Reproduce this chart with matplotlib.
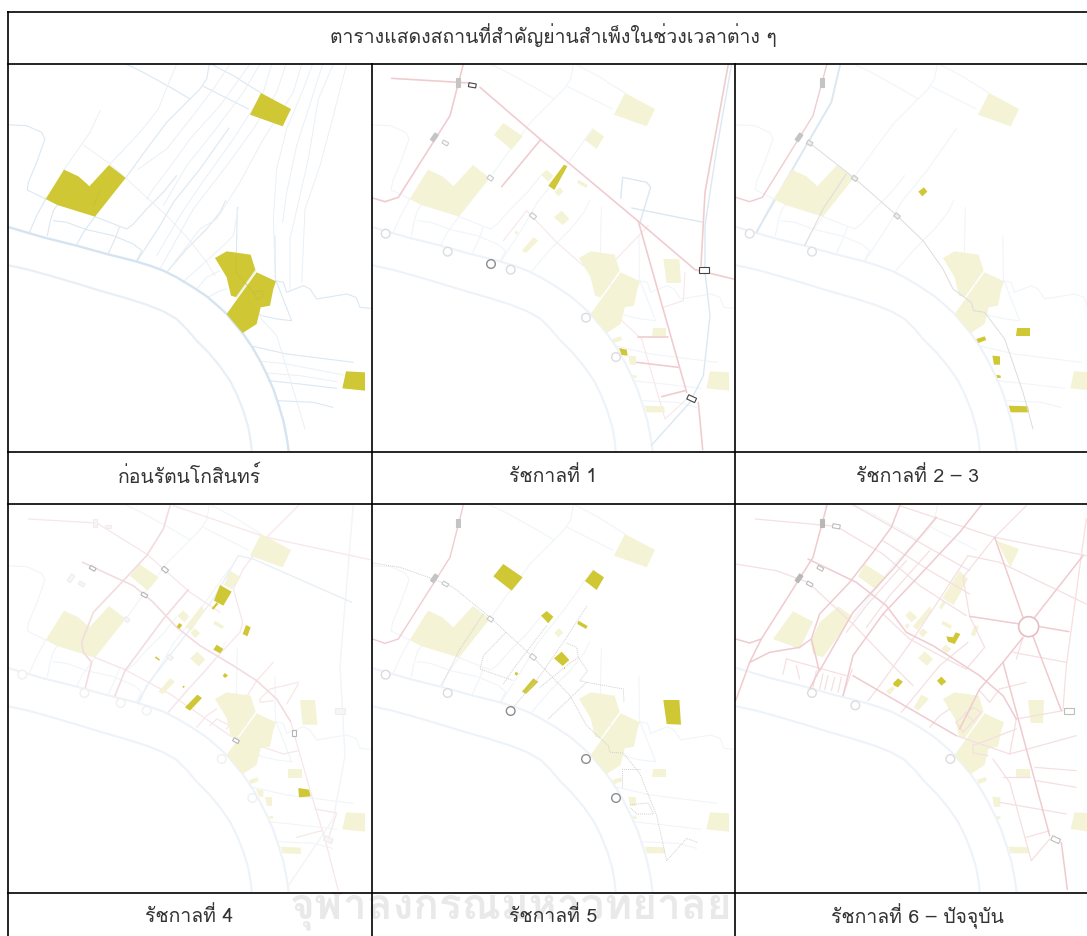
import matplotlib
matplotlib.use('Agg')
import matplotlib.pyplot as plt
from matplotlib.patches import Polygon, Circle
import numpy as np

plt.rcParams['font.family'] = ['Loma', 'Noto Sans Thai', 'DejaVu Sans']

TITLE = 'ตารางแสดงสถานที่สำคัญย่านสำเพ็งในช่วงเวลาต่าง ๆ'
CAPTIONS = ['ก่อนรัตนโกสินทร์', 'รัชกาลที่ 1', 'รัชกาลที่ 2 – 3', 'รัชกาลที่ 4', 'รัชกาลที่ 5', 'รัชกาลที่ 6 – ปัจจุบัน']
WATERMARK = 'จุฬาลงกรณ์มหาวิทยาลัย'

YELLOW = '#cfc733'
PALE = '#f4f3d6'
BLUE = '#dbe8f2'
PALE_BLUE = '#f0f5f9'
RED = '#f0ccd0'
PINK = '#f8e7e9'
GREY = '#dcdcdc'

# map units are 1/3 px of the first panel
NORTH = [(783, 102), (873, 150), (848, 202), (750, 167)]
PALACE = [(137, 420), (192, 332), (235, 352), (258, 372), (268, 382), (327, 318), (377, 357), (285, 473), (172, 438)]
CENTER_UP = [(645, 597), (680, 577), (752, 587), (767, 635), (710, 715), (693, 710), (680, 655)]
CENTER_LOW = [(770, 640), (828, 667), (820, 690), (810, 740), (782, 745), (770, 795), (728, 822), (680, 765), (712, 720)]
SOUTHEAST = [(1038, 937), (1095, 940), (1095, 995), (1027, 988)]
WAT1 = [(418, 192), (476, 232), (443, 272), (390, 228)]
WAT2 = [(688, 210), (720, 232), (698, 270), (663, 243)]
WAT3 = [(548, 333), (568, 350), (553, 368), (531, 347)]
WAT4 = [(588, 385), (598, 398), (583, 412), (571, 398)]
WAT5 = [(593, 455), (616, 480), (596, 498), (570, 475)]
WAT6 = [(643, 362), (671, 378), (666, 387), (640, 372)]
WAT7 = [(508, 535), (523, 545), (486, 582), (474, 575)]
WAT8 = [(455, 515), (463, 520), (458, 527), (452, 523)]
WAT9 = [(898, 600), (946, 600), (951, 672), (908, 672)]
S1 = [(866, 806), (906, 806), (906, 832), (863, 832)]
S2 = [(745, 840), (770, 832), (775, 843), (751, 852)]
S3 = [(793, 890), (816, 892), (816, 917), (798, 917)]
S4 = [(805, 947), (818, 950), (818, 957), (808, 957)]
S5 = [(842, 1040), (900, 1042), (903, 1060), (848, 1060)]
NARROW = [(600, 317), (610, 322), (571, 393), (553, 380)]
DOCK = [(765, 867), (788, 872), (791, 890), (773, 888)]
BIG_BLOCKS = [NORTH, PALACE, CENTER_UP, CENTER_LOW, SOUTHEAST]

RIVER_EAST = [(21, 503), (130, 535), (230, 560), (320, 585), (400, 605), (450, 620), (490, 635), (530, 655), (575, 682), (620, 712), (655, 742), (680, 765), (705, 795), (730, 825), (757, 865), (780, 905), (800, 945), (820, 990), (835, 1035), (850, 1085), (860, 1135), (866, 1176)]
RIVER_WEST = [(21, 618), (85, 632), (150, 650), (225, 672), (300, 695), (370, 715), (440, 737), (490, 757), (530, 780), (560, 810), (590, 845), (625, 880), (660, 922), (690, 965), (710, 1005), (730, 1055), (745, 1105), (752, 1145), (755, 1176)]

BASE_LINES = [
    [(378, 15), (430, 40), (520, 90), (570, 120)],
    [(628, 15), (620, 60), (600, 90), (570, 120), (500, 190), (440, 270), (377, 357)],
    [(610, 82), (745, 150)],
    [(633, 15), (700, 50), (783, 102)],
    [(21, 197), (80, 200), (125, 220), (135, 240), (110, 310), (85, 370), (82, 393), (137, 420)],
    [(137, 420), (110, 470), (88, 520)],
    [(172, 438), (160, 455), (150, 490), (142, 530)],
    [(160, 485), (200, 490), (260, 512), (340, 530), (400, 555), (425, 575), (410, 605)],
    [(285, 473), (250, 520), (230, 558)],
    [(285, 473), (380, 510), (400, 495), (440, 450), (490, 400), (530, 350)],
    [(358, 505), (345, 540), (325, 583)],
    [(687, 207), (600, 330), (520, 430), (480, 500), (410, 608)],
    [(500, 640), (560, 570), (620, 510), (660, 460), (677, 425)],
    [(712, 445), (708, 640), (760, 700)],
    [(825, 530), (826, 660), (875, 785), (830, 780), (785, 770), (760, 755)],
    [(825, 665), (850, 670), (860, 700), (910, 680), (930, 690), (950, 720), (1040, 705), (1068, 715), (1080, 745), (1113, 748)],
    [(760, 862), (860, 885), (1060, 910)],
    [(805, 965), (900, 975), (1010, 988)],
    [(835, 1025), (940, 1030), (998, 1045)],
]
FAN_LINES = [
    [(300, 155), (270, 220), (190, 335)],
    [(530, 15), (505, 75), (475, 150), (420, 220), (330, 315)],
    [(690, 15), (640, 90), (575, 175), (500, 270), (415, 330)],
    [(750, 15), (660, 140), (570, 240), (520, 310), (460, 390), (440, 420)],
    [(780, 15), (730, 100), (640, 220), (560, 320), (490, 440)],
    [(815, 15), (790, 100), (700, 240), (600, 380), (540, 470), (470, 590)],
    [(858, 15), (830, 100), (760, 210), (680, 320), (580, 450), (480, 630)],
    [(905, 15), (880, 100), (790, 240), (720, 370), (650, 480), (600, 510), (500, 640)],
    [(938, 15), (910, 90), (860, 210), (830, 330), (820, 480), (825, 640)],
    [(968, 15), (935, 120), (890, 260), (860, 400), (848, 490)],
    [(1000, 15), (955, 120), (925, 300), (870, 540), (870, 690)],
    [(1040, 15), (1000, 170), (960, 320), (915, 450), (905, 670)],
    [(548, 670), (620, 605), (670, 560), (700, 530), (715, 445)],
    [(780, 775), (830, 830), (870, 960), (915, 1110)],
    [(785, 907), (860, 915), (1030, 948)],
    [(800, 942), (900, 950), (1010, 968)],
    [(625, 715), (660, 695), (680, 690)],
    [(590, 690), (620, 655), (660, 635)],
]
P1_GREY_LINES = [[(250, 258), (330, 315), (377, 357), (440, 415), (500, 470), (570, 545), (620, 610), (645, 650)]]
P1_INNER = [[(708, 590), (708, 640), (760, 700)], [(760, 700), (785, 695), (790, 712), (772, 722), (760, 700)], [(300, 395), (280, 440)]]

# panel 2, in its own crop coordinates
P2_RED = [
    [(65, 58), (300, 72)],
    [(330, 85), (510, 240), (805, 487), (975, 632), (1090, 660)],
    [(805, 487), (950, 1000)],
    [(985, 1030), (998, 1172)],
    [(280, 15), (240, 170), (85, 415), (45, 428), (8, 417)],
    [(512, 242), (395, 383)],
    [(1075, 15), (1005, 400), (993, 620)],
    [(805, 833), (895, 833)],
    [(800, 910), (925, 925)],
    [(875, 1013), (945, 995)],
]
P2_PINK = [
    [(815, 840), (885, 1080), (950, 1020)],
    [(750, 780), (815, 840)],
    [(835, 500), (700, 640)],
    [(400, 545), (470, 455), (560, 550), (640, 620)],
    [(880, 745), (940, 725), (945, 640)],
]
P2_BLUE = [
    [(1085, 15), (1040, 270), (1005, 500), (1005, 640), (1020, 770), (1000, 950), (960, 1030), (845, 1158)],
    [(752, 418), (758, 355), (830, 370), (842, 385), (810, 490)],
    [(785, 447), (1000, 490)],
]
P2_CIRCLES = [(47, 524), (233, 578), (422, 632), (648, 776), (738, 894)]
P2_CIRCLES_DARK = [(363, 615)]
P2_GATES_DARK = [(307, 79, 22, 12, 10), (1003, 632, 30, 18, 0), (965, 1019, 26, 14, 25)]
P2_GATES_LIGHT = [(226, 252, 18, 10, 30), (361, 357, 16, 12, 35), (489, 471, 18, 12, 40)]
P2_BARS = [(264, 70, 14, 26, 0), (193, 235, 12, 24, 35)]

# panel 3
P3_RED = [[(282, 15), (240, 170), (88, 415), (50, 428), (8, 415)]]
P3_BLUE = [[(322, 15), (295, 130), (225, 250), (70, 520)]]
P3_GREY = [
    [(230, 252), (365, 358), (492, 470), (570, 545), (630, 630), (660, 690), (715, 730), (722, 755), (755, 760), (815, 840), (870, 1000), (900, 1110)],
    [(340, 345), (270, 450), (215, 560)],
]
P3_CIRCLES = [(50, 524), (237, 578)]
P3_GATES_LIGHT = [(230, 252, 16, 12, 30), (365, 358, 16, 12, 35), (492, 471, 16, 12, 40)]
P3_BARS = [(267, 70, 14, 26, 0), (198, 235, 12, 24, 35)]

# panel 4
P4_YELLOW = [
    [(660, 258), (695, 278), (670, 320), (642, 305)],
    [(650, 310), (655, 315), (640, 332), (635, 328)],
    [(738, 378), (752, 385), (742, 412), (728, 405)],
    [(650, 437), (670, 450), (660, 463), (640, 452)],
    [(538, 372), (547, 378), (538, 390), (530, 383)],
    [(468, 472), (480, 482), (477, 485), (465, 476)],
    [(675, 522), (684, 530), (675, 537), (668, 530)],
    [(550, 560), (555, 563), (550, 567), (547, 563)],
    [(592, 587), (606, 597), (570, 635), (555, 625)],
    [(895, 867), (927, 872), (932, 892), (897, 895)],
]
P4_PALE = [
    [(690, 215), (722, 235), (695, 270), (672, 258)],
    [(532, 350), (550, 335), (568, 352), (553, 370)],
    [(555, 385), (605, 320), (612, 335), (575, 395)],
    [(585, 388), (600, 403), (585, 417), (572, 402)],
    [(592, 458), (616, 482), (596, 502), (570, 478)],
    [(645, 365), (672, 382), (667, 390), (640, 375)],
    [(510, 538), (525, 548), (488, 586), (476, 578)],
    [(900, 603), (945, 603), (952, 677), (908, 677)],
    [(865, 809), (907, 809), (907, 836), (863, 836)],
    [(747, 843), (772, 835), (776, 846), (752, 855)],
    [(768, 870), (790, 875), (790, 893), (778, 893)],
    [(795, 895), (816, 895), (816, 921), (800, 921)],
    [(806, 950), (819, 950), (819, 960), (810, 960)],
    [(842, 1043), (902, 1046), (903, 1065), (848, 1063)],
]
P4_RED = [
    [(248, 190), (330, 228), (400, 260), (460, 310), (530, 385), (600, 440), (700, 500), (770, 545), (830, 600), (872, 668)],
    [(510, 20), (490, 90), (440, 170), (370, 245), (280, 340), (245, 430), (250, 460), (275, 490), (255, 570)],
    [(565, 272), (490, 360), (375, 515), (345, 590)],
]
P4_PINK = [
    [(520, 20), (800, 115), (1110, 182)],
    [(895, 20), (800, 115), (730, 210), (700, 270), (728, 370), (720, 400), (650, 475), (505, 640)],
    [(285, 475), (375, 512), (510, 585), (690, 710), (850, 765), (895, 755)],
    [(820, 490), (770, 545), (680, 690)],
    [(895, 550), (810, 570), (780, 600), (780, 610), (820, 605)],
    [(895, 555), (860, 615)],
    [(872, 668), (935, 890), (975, 1020), (1015, 1175)],
    [(590, 685), (620, 650), (650, 630)],
    [(630, 680), (650, 660), (690, 680)],
    [(85, 60), (290, 72), (440, 165), (570, 280), (660, 340)],
    [(945, 930), (1010, 942), (985, 1020)],
    [(890, 1015), (965, 995)],
]
P4_BLUE = [
    [(715, 170), (640, 300), (540, 430), (440, 560), (415, 615)],
    [(715, 170), (760, 180), (1055, 310)],
]
P4_PALE_BLUE = [[(1060, 15), (1020, 500), (1035, 770), (1000, 960), (865, 1160)]]
P4_CIRCLES = [(67, 527), (253, 582), (362, 612), (440, 635), (665, 780), (757, 897)]
P4_GATES_DARK = [(278, 208, 18, 10, 30), (433, 288, 18, 10, 30), (495, 212, 18, 12, 40), (882, 702, 10, 16, 0), (708, 725, 18, 10, 30)]
P4_GATES_LIGHT = [(325, 82, 18, 10, 0), (245, 255, 18, 10, 30), (380, 362, 16, 12, 35), (510, 475, 16, 12, 40), (1020, 635, 30, 18, 0), (985, 1022, 26, 14, 25), (285, 72, 14, 26, 0), (213, 238, 12, 24, 35)]

# panel 5
P5_YELLOW = [
    [(400, 195), (458, 235), (425, 275), (370, 232)],
    [(670, 213), (702, 235), (680, 273), (645, 246)],
    [(530, 336), (550, 353), (535, 373), (513, 350)],
    [(575, 458), (598, 483), (578, 501), (552, 478)],
    [(625, 365), (653, 381), (648, 390), (622, 375)],
    [(490, 538), (505, 548), (468, 585), (456, 578)],
    [(437, 518), (445, 523), (440, 530), (434, 526)],
    [(880, 603), (928, 603), (933, 677), (890, 675)],
    [(581, 505), (586, 505), (586, 510), (581, 510)],
]
P5_PALE = [
    [(568, 388), (580, 401), (565, 415), (553, 401)],
    [(848, 809), (888, 809), (888, 835), (845, 835)],
    [(727, 843), (752, 835), (757, 846), (733, 855)],
    [(775, 893), (798, 895), (798, 921), (780, 921)],
    [(787, 950), (800, 953), (800, 960), (790, 960)],
    [(824, 1043), (882, 1045), (885, 1063), (830, 1063)],
]
P5_RED = [[(280, 18), (240, 175), (85, 420), (45, 433), (8, 420)]]
P5_GREY = [
    [(8, 192), (90, 205), (190, 240), (250, 265), (360, 355), (490, 475), (600, 590), (650, 680), (715, 740), (720, 760), (760, 762), (810, 825), (860, 950), (890, 1085), (950, 1018), (982, 1030)],
    [(340, 345), (270, 450), (215, 560)],
    [(408, 400), (340, 470), (330, 510), (430, 545)],
    [(530, 380), (430, 510), (400, 555)],
    [(650, 322), (580, 430), (510, 530), (430, 625)],
    [(510, 565), (590, 500), (625, 475), (652, 515), (630, 545), (650, 550), (535, 660)],
    [(650, 550), (760, 570), (762, 610)],
    [(590, 432), (620, 445), (625, 475)],
    [(810, 810), (755, 810), (755, 865)],
    [(780, 917), (835, 912), (850, 945), (800, 945), (780, 925)],
]
P5_CIRCLES = [(47, 527), (233, 582)]
P5_CIRCLES_DARK = [(422, 636), (648, 780), (738, 897)]
P5_GATES_LIGHT = [(226, 255, 18, 10, 30), (361, 360, 16, 12, 35), (489, 474, 18, 12, 40)]
P5_BARS = [(264, 72, 14, 26, 0), (193, 238, 12, 24, 35)]

# panel 6
P6_PALACE = [
    [(120, 420), (180, 337), (240, 368), (200, 450)],
    [(232, 430), (260, 370), (315, 322), (358, 352), (270, 475), (240, 465)],
]
P6_PALE = [
    [(790, 125), (858, 150), (832, 205)],
    [(395, 195), (458, 235), (430, 272), (375, 232)],
    [(680, 215), (705, 240), (662, 318), (628, 298)],
    [(630, 305), (638, 312), (625, 332), (618, 325)],
    [(530, 335), (553, 355), (535, 370), (517, 350)],
    [(590, 322), (597, 335), (553, 393), (540, 382)],
    [(522, 373), (530, 378), (522, 390), (515, 383)],
    [(570, 388), (584, 400), (568, 415), (557, 400)],
    [(630, 365), (657, 380), (652, 390), (625, 375)],
    [(725, 378), (738, 383), (725, 413), (713, 407)],
    [(638, 437), (655, 450), (640, 463), (625, 450)],
    [(575, 457), (600, 480), (582, 500), (555, 478)],
    [(478, 562), (485, 570), (470, 587), (458, 578)],
    [(565, 587), (588, 600), (555, 635), (542, 625)],
    [(885, 603), (933, 603), (930, 672), (893, 672)],
    [(850, 809), (892, 809), (892, 835), (848, 835)],
    [(732, 842), (757, 834), (762, 845), (738, 855)],
    [(778, 893), (802, 895), (802, 923), (783, 923)],
    [(790, 950), (803, 953), (803, 960), (793, 960)],
    [(827, 1043), (885, 1045), (888, 1063), (833, 1063)],
    [(1025, 940), (1062, 942), (1062, 997), (1013, 990)],
]
P6_YELLOW = [
    [(640, 412), (660, 415), (668, 400), (682, 405), (665, 435), (645, 428)],
    [(612, 545), (625, 533), (640, 548), (625, 560)],
    [(480, 553), (495, 538), (510, 548), (495, 565), (483, 560)],
]
P6_RED = [
    [(282, 18), (240, 175), (85, 420), (50, 432), (8, 420)],
    [(85, 420), (50, 490), (8, 605)],
    [(50, 490), (110, 460), (200, 445), (235, 420), (260, 345), (350, 250), (420, 160), (475, 85), (500, 20)],
    [(235, 420), (250, 480), (258, 515), (230, 570)],
    [(610, 55), (480, 210), (360, 340), (260, 515)],
    [(745, 18), (680, 100), (540, 250), (450, 345), (360, 470), (330, 590)],
    [(360, 530), (420, 565), (670, 710)],
    [(785, 115), (870, 355)],
    [(900, 412), (985, 635)],
    [(1050, 170), (905, 355)],
    [(870, 415), (810, 490), (740, 570), (680, 690)],
    [(710, 352), (860, 375)],
    [(915, 382), (1008, 398)],
    [(810, 490), (950, 1010)],
    [(985, 1030), (1003, 1172)],
    [(225, 180), (370, 250), (460, 320), (520, 400), (600, 440), (740, 530), (810, 590), (850, 660)],
]
P6_PINK = [
    [(67, 60), (310, 82), (450, 165), (560, 260), (700, 350)],
    [(360, 18), (710, 215)],
    [(500, 20), (785, 115), (1060, 170)],
    [(880, 20), (785, 115), (690, 235), (710, 352), (755, 445), (700, 510)],
    [(705, 170), (800, 190), (1060, 315)],
    [(705, 170), (620, 300), (540, 420), (440, 560), (405, 605)],
    [(1060, 60), (1000, 500), (990, 630)],
    [(160, 480), (150, 525)],
    [(160, 480), (340, 530)],
    [(190, 500), (200, 540)],
    [(250, 515), (240, 565)],
    [(270, 525), (260, 570)],
    [(285, 530), (275, 572)],
    [(305, 535), (295, 575)],
    [(325, 535), (315, 580)],
    [(358, 510), (330, 590)],
    [(670, 670), (720, 625), (745, 640), (690, 700), (670, 670)],
    [(695, 640), (725, 670)],
    [(850, 660), (990, 635)],
    [(850, 660), (830, 765), (670, 710)],
    [(830, 765), (1030, 710)],
    [(725, 738), (850, 690)],
    [(905, 805), (1030, 815)],
    [(910, 845), (1030, 865)],
    [(800, 910), (1000, 945)],
    [(880, 1015), (950, 995)],
    [(810, 835), (890, 835)],
    [(780, 780), (830, 850), (895, 1085), (950, 1020)],
    [(800, 570), (880, 550)],
    [(740, 575), (770, 610), (800, 570)],
    [(505, 640), (620, 500), (705, 430)],
    [(590, 685), (620, 650), (650, 630)],
    [(8, 195), (130, 215), (225, 250), (360, 375), (460, 480), (540, 560)],
    [(720, 735), (720, 762), (765, 770)],
    [(450, 125), (590, 215), (710, 285)],
    [(590, 155), (470, 290), (400, 385)],
    [(520, 185), (400, 320), (340, 400)],
    [(840, 460), (1000, 490)],
    [(870, 415), (850, 480)],
    [(450, 345), (530, 420), (640, 480), (700, 510)],
]
P6_CIRCLE = (887, 383)
P6_CIRCLES = [(237, 582), (367, 619), (652, 780)]
P6_GATES_LIGHT = [(310, 82, 22, 12, 10), (262, 208, 18, 10, 30), (230, 255, 18, 10, 30), (1008, 636, 30, 18, 0), (968, 1022, 26, 14, 25)]
P6_BARS = [(267, 72, 14, 26, 0), (198, 238, 12, 24, 35)]

# table geometry in image px
COLS = [(7, 371), (372, 734), (735, 1087)]
ROWS = [(64, 452), (505, 893)]
SHIFTS = [(0, 0), (18, 0), (15, 0), (0, -3), (18, -3), (15, -3)]
W, H = 1087, 937

fig = plt.figure(figsize=(W / 100, H / 100), dpi=100)

bg = fig.add_axes([0, 0, 1, 1], zorder=0)
bg.set_xlim(0, W)
bg.set_ylim(H, 0)
bg.axis('off')
bg.text(511, 903, WATERMARK, fontsize=30.5, fontweight='bold', color='#e9e9e9', ha='center', va='center')


def lines(ax, items, color, lw, shift=(0, 0), z=2, **kw):
    for item in items:
        pts = np.array(item, dtype=float) + shift
        ax.plot(pts[:, 0], pts[:, 1], color=color, lw=lw, zorder=z, solid_capstyle='round', **kw)


def blocks(ax, items, color, shift=(0, 0), z=3):
    for item in items:
        pts = np.array(item, dtype=float) + shift
        ax.add_patch(Polygon(pts, closed=True, fc=color, ec='none', zorder=z))


def gates(ax, items, ec, fc='white', shift=(0, 0), lw=0.8):
    for cx, cy, w, h, ang in items:
        a = np.deg2rad(ang)
        rot = np.array([[np.cos(a), -np.sin(a)], [np.sin(a), np.cos(a)]])
        box = np.array([(-w, -h), (w, -h), (w, h), (-w, h)]) / 2
        pts = box @ rot.T + np.array([cx, cy]) + shift
        ax.add_patch(Polygon(pts, closed=True, fc=fc, ec=ec, lw=lw, zorder=6))


def rings(ax, items, color, shift=(0, 0), lw=1.0, r=13):
    for cx, cy in items:
        ax.add_patch(Circle((cx + shift[0], cy + shift[1]), r, fc='white', ec=color, lw=lw, zorder=6))


def base(ax, line_color=PALE_BLUE, block_color=PALE):
    lines(ax, BASE_LINES, line_color, 0.8)
    lines(ax, [RIVER_EAST, RIVER_WEST], '#edf3f8', 1.5)
    blocks(ax, BIG_BLOCKS, block_color)


axes = []
for r, (top, bottom) in enumerate(ROWS):
    for c, (left, right) in enumerate(COLS):
        ax = fig.add_axes([left / W, 1 - bottom / H, (right - left) / W, (bottom - top) / H], zorder=1)
        offset = [0, 364, 728][c]
        ax.set_xlim(3 * (left - offset), 3 * (right - offset))
        ax.set_ylim(3 * (bottom - [0, 441][r] - 60), 3 * (top - [0, 441][r] - 60))
        ax.set_xticks([])
        ax.set_yticks([])
        for s in ax.spines.values():
            s.set_visible(False)
        axes.append(ax)

# before Rattanakosin
ax = axes[0]
lines(ax, BASE_LINES, BLUE, 0.8)
lines(ax, FAN_LINES, '#e9f0f6', 0.7)
lines(ax, P1_GREY_LINES, '#e9eef1', 0.6)
lines(ax, [RIVER_EAST], '#d5e4f0', 1.7)
lines(ax, [RIVER_WEST], '#e8f0f6', 1.6)
blocks(ax, BIG_BLOCKS, YELLOW)
lines(ax, [[(710, 715), (767, 635)]], '#eef3dc', 1.2, z=4)
lines(ax, P1_INNER, '#c4bf3a', 0.5, z=4)

# Rama 1
ax = axes[1]
s = SHIFTS[1]
base(ax)
blocks(ax, [WAT1, WAT2, WAT3, WAT4, WAT5, WAT6, WAT7, WAT8, WAT9, S1, S2, S3, S4, S5], PALE)
blocks(ax, [NARROW, DOCK], YELLOW)
lines(ax, P2_PINK, PINK, 0.8, s)
lines(ax, P2_BLUE, BLUE, 1.0, s)
lines(ax, P2_RED, RED, 1.2, s, z=4)
rings(ax, P2_CIRCLES, '#dcdcdc', s)
rings(ax, P2_CIRCLES_DARK, '#8c8c8c', s)
gates(ax, P2_GATES_DARK, '#444444', shift=s)
gates(ax, P2_GATES_LIGHT, '#c8c8c8', shift=s)
gates(ax, P2_BARS, '#c4c4c4', fc='#c4c4c4', shift=s)

# Rama 2-3
ax = axes[2]
s = SHIFTS[2]
base(ax)
blocks(ax, [WAT4, S1, S2, S3, S4, S5], YELLOW)
lines(ax, P3_BLUE, BLUE, 1.4, s)
lines(ax, P3_RED, RED, 1.0, s, z=4)
lines(ax, P3_GREY, GREY, 0.7, s, z=4)
rings(ax, P3_CIRCLES, '#e0e0e4', s)
gates(ax, P3_GATES_LIGHT, '#c8c8c8', fc='#eeeeee', shift=s)
gates(ax, P3_BARS, '#c4c4c4', fc='#c4c4c4', shift=s)

# Rama 4
ax = axes[3]
s = SHIFTS[3]
base(ax)
lines(ax, P4_PALE_BLUE, PALE_BLUE, 1.0, s)
lines(ax, P4_BLUE, '#e8f0f6', 1.0, s)
lines(ax, P4_PINK, '#f8e6e8', 0.9, s, z=2)
blocks(ax, [WAT1], PALE)
blocks(ax, P4_PALE, PALE, s)
lines(ax, P4_RED, '#f3dcdf', 1.2, s, z=4)
blocks(ax, P4_YELLOW, YELLOW, s, z=5)
rings(ax, P4_CIRCLES, '#f0f0f0', s)
gates(ax, P4_GATES_DARK, '#b4b4b4', shift=s)
gates(ax, P4_GATES_LIGHT, '#eeeeee', fc='#f6f6f6', shift=s)

# Rama 5
ax = axes[4]
s = SHIFTS[4]
base(ax)
blocks(ax, P5_PALE, PALE, s)
blocks(ax, P5_YELLOW, YELLOW, s)
lines(ax, P5_RED, RED, 1.0, s, z=4)
lines(ax, P5_GREY, '#cfcfcf', 0.7, s, z=4, linestyle=(0, (1, 1)))
rings(ax, P5_CIRCLES, '#dcdcdc', s)
rings(ax, P5_CIRCLES_DARK, '#8c8c8c', s)
gates(ax, P5_GATES_LIGHT, '#c8c8c8', shift=s)
gates(ax, P5_BARS, '#c4c4c4', fc='#c4c4c4', shift=s)

# Rama 6 - present
ax = axes[5]
s = SHIFTS[5]
lines(ax, BASE_LINES[:3], PALE_BLUE, 0.8)
lines(ax, [RIVER_EAST, RIVER_WEST], '#edf3f8', 1.5)
blocks(ax, [CENTER_UP, CENTER_LOW], PALE)
blocks(ax, P6_PALACE, PALE, s)
blocks(ax, P6_PALE, PALE, s)
blocks(ax, P6_YELLOW, YELLOW, s, z=5)
lines(ax, P6_PINK, '#f6dfe1', 0.9, s, z=4)
lines(ax, P6_RED, '#efcbcf', 1.1, s, z=4)
rings(ax, [P6_CIRCLE], '#e8bcc2', s, lw=1.2, r=30)
rings(ax, P6_CIRCLES, '#dcdcdc', s)
gates(ax, P6_GATES_LIGHT, '#bdbdbd', shift=s)
gates(ax, P6_BARS, '#b8b8b8', fc='#b8b8b8', shift=s)

grid = fig.add_axes([0, 0, 1, 1], zorder=2)
grid.patch.set_alpha(0)
grid.set_xlim(0, W)
grid.set_ylim(H, 0)
grid.axis('off')
for y in [12.5, 64.5, 452.5, 505, 893.5]:
    grid.plot([7, W], [y, y], color='black', lw=1.2, solid_capstyle='butt')
grid.plot([7.5, 7.5], [12, H], color='black', lw=1.2, solid_capstyle='butt')
for x in [371.5, 734.5]:
    grid.plot([x, x], [64, H], color='black', lw=1.2, solid_capstyle='butt')

TEXT = '#333333'
grid.text(553, 35, TITLE, fontsize=14, color=TEXT, ha='center', va='center')
cap_x = [189, 553, 917]
cap_y = [476, 916]
for i, cap in enumerate(CAPTIONS):
    grid.text(cap_x[i % 3], cap_y[i // 3], cap, fontsize=14, color=TEXT, ha='center', va='center')

fig.savefig('out.png', dpi=100)
